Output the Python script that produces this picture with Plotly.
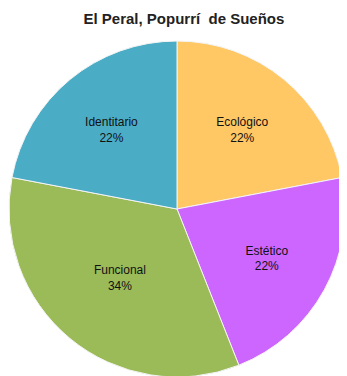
import plotly.graph_objects as go

# datos
categorias = ["Ecológico", "Estético", "Funcional", "Identitario"]
valores = [22, 22, 34, 22]
colores = ["#FFC864", "#CC66FF", "#9BBB59", "#4BACC6"]

# la página añade 8px de margen al body: se compensa en el dominio
fig = go.Figure()
fig.add_trace(go.Pie(
    labels=categorias, values=valores,
    sort=False, direction="clockwise", rotation=0,
    marker=dict(colors=colores, line=dict(color="#f4f4f4", width=1)),
    texttemplate="%{label}<br>%{percent:.0%}",
    textposition="inside", insidetextorientation="horizontal",
    textfont=dict(family="Liberation Sans", size=12, color="#111111"),
    domain=dict(x=[1 / 347, 337 / 347], y=[1 - 369 / 376, 1 - 33 / 376]),
    showlegend=False, hoverinfo="label+percent",
))

fig.update_layout(
    width=347, height=376,
    margin=dict(l=0, r=0, t=0, b=0),
    paper_bgcolor="white", plot_bgcolor="white",
    title=dict(
        text="<b>El Peral, Popurrí  de Sueños</b>",
        x=0.507, xanchor="center", y=0.971, yanchor="middle",
        font=dict(family="Liberation Sans", size=15, color="#222222"),
    ),
)

fig.write_html("out.html")
